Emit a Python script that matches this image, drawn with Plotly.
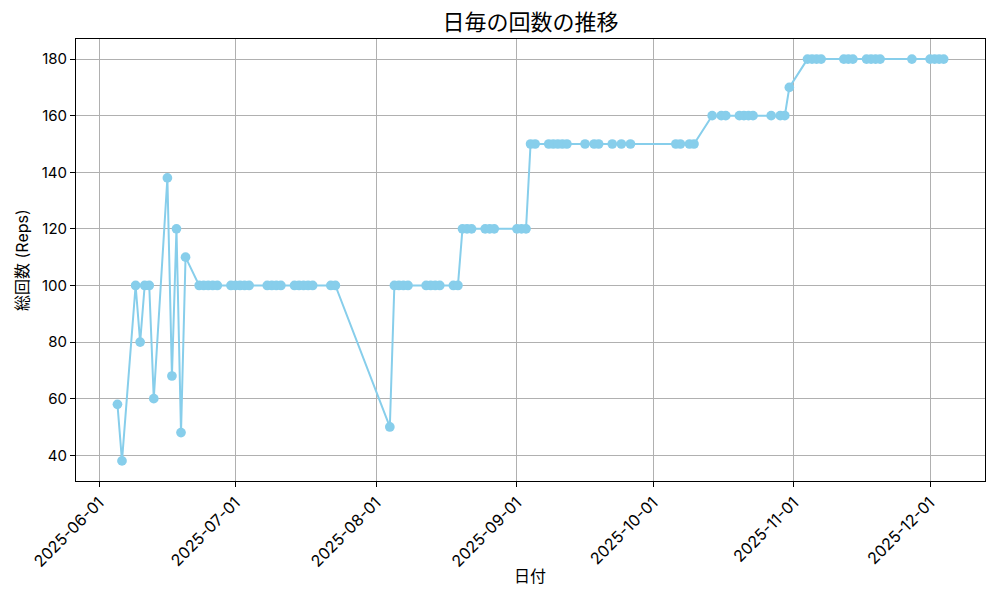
import pandas as pd
import plotly.graph_objects as go

# ---- data ----
dates = [
    "2025-06-05", "2025-06-06", "2025-06-09", "2025-06-10", "2025-06-11", "2025-06-12",
    "2025-06-13", "2025-06-16", "2025-06-17", "2025-06-18", "2025-06-19", "2025-06-20",
    "2025-06-23", "2025-06-24", "2025-06-25", "2025-06-26", "2025-06-27",
    "2025-06-30", "2025-07-01", "2025-07-02", "2025-07-03", "2025-07-04",
    "2025-07-08", "2025-07-09", "2025-07-10", "2025-07-11",
    "2025-07-14", "2025-07-15", "2025-07-16", "2025-07-17", "2025-07-18",
    "2025-07-22", "2025-07-23",
    "2025-08-04",
    "2025-08-05", "2025-08-06", "2025-08-07", "2025-08-08",
    "2025-08-12", "2025-08-13", "2025-08-14", "2025-08-15",
    "2025-08-18", "2025-08-19",
    "2025-08-20", "2025-08-21", "2025-08-22",
    "2025-08-25", "2025-08-26", "2025-08-27",
    "2025-09-01", "2025-09-02", "2025-09-03",
    "2025-09-04", "2025-09-05",
    "2025-09-08", "2025-09-09", "2025-09-10", "2025-09-11", "2025-09-12",
    "2025-09-16", "2025-09-18", "2025-09-19",
    "2025-09-22", "2025-09-24", "2025-09-26",
    "2025-10-06", "2025-10-07", "2025-10-09", "2025-10-10",
    "2025-10-14", "2025-10-16", "2025-10-17",
    "2025-10-20", "2025-10-21", "2025-10-22", "2025-10-23",
    "2025-10-27", "2025-10-29", "2025-10-30",
    "2025-10-31",
    "2025-11-04", "2025-11-05", "2025-11-06", "2025-11-07",
    "2025-11-12", "2025-11-13", "2025-11-14",
    "2025-11-17", "2025-11-18", "2025-11-19", "2025-11-20",
    "2025-11-27",
    "2025-12-01", "2025-12-02", "2025-12-03", "2025-12-04",
]
reps = [
    58, 38, 100, 80, 100, 100,
    60, 138, 68, 120, 48, 110,
    100, 100, 100, 100, 100,
    100, 100, 100, 100, 100,
    100, 100, 100, 100,
    100, 100, 100, 100, 100,
    100, 100,
    50,
    100, 100, 100, 100,
    100, 100, 100, 100,
    100, 100,
    120, 120, 120,
    120, 120, 120,
    120, 120, 120,
    150, 150,
    150, 150, 150, 150, 150,
    150, 150, 150,
    150, 150, 150,
    150, 150, 150, 150,
    160, 160, 160,
    160, 160, 160, 160,
    160, 160, 160,
    170,
    180, 180, 180, 180,
    180, 180, 180,
    180, 180, 180, 180,
    180,
    180, 180, 180, 180,
]
y_ticks = [40, 60, 80, 100, 120, 140, 160, 180]

title_text = "日毎の回数の推移"
x_title = "日付"
y_title = "総回数 (Reps)"

FONT = "Inter, Noto Sans CJK JP, sans-serif"
CJK = "Noto Sans CJK JP, sans-serif"

x = pd.to_datetime(dates)
origin = pd.Timestamp("2025-06-01")
x_lo = origin + pd.Timedelta(days=-5.13)
x_hi = origin + pd.Timedelta(days=195.1)

L, R, T, B = 76, 15, 39, 119
PW, PH = 1000 - L - R, 600 - T - B

fig = go.Figure()
fig.add_trace(go.Scatter(
    x=x, y=reps, mode="lines+markers",
    line=dict(color="#87CEEB", width=2),
    marker=dict(color="#87CEEB", size=9.7),
    showlegend=False,
))

fig.update_layout(
    width=1000, height=600,
    paper_bgcolor="white", plot_bgcolor="white",
    margin=dict(l=L, r=R, t=T, b=B, autoexpand=False),
    font=dict(family=FONT, size=14, color="black"),
    title=dict(text=title_text, xref="paper", x=0.5, xanchor="center",
               y=1 - 22 / 600, yanchor="middle",
               font=dict(size=22, family=CJK, color="black")),
    annotations=[
        dict(text=x_title, xref="paper", yref="paper",
             x=(530 - L) / PW, y=(600 - B - 575) / PH,
             xanchor="center", yanchor="middle", showarrow=False,
             font=dict(size=16, family=CJK, color="black")),
        dict(text=y_title, xref="paper", yref="paper",
             x=(22 - L) / PW, y=(600 - B - 260) / PH, textangle=-90,
             xanchor="center", yanchor="middle", showarrow=False,
             font=dict(size=16, family=FONT, color="black")),
    ],
)
fig.update_xaxes(
    type="date", range=[x_lo, x_hi], automargin=False,
    tick0="2025-06-01", dtick="M1", tickformat="%Y-%m-%d",
    tickangle=-45, ticks="outside", ticklen=5, tickwidth=1, tickcolor="black",
    showgrid=True, gridcolor="#b0b0b0", gridwidth=1,
    showline=True, linecolor="black", linewidth=1, mirror=True,
    zeroline=False,
    tickfont=dict(size=16, family=FONT),
)
fig.update_yaxes(
    range=[30.9, 187.1], tickvals=y_ticks, automargin=False,
    ticks="outside", ticklen=5, tickwidth=1, tickcolor="black",
    showgrid=True, gridcolor="#b0b0b0", gridwidth=1,
    showline=True, linecolor="black", linewidth=1, mirror=True,
    zeroline=False,
    tickfont=dict(size=15, family=FONT),
)

fig.write_html(
    "out.html",
    config={"responsive": False, "displayModeBar": False},
    post_script=(
        "document.body.style.margin='0';"
        "document.body.style.overflow='hidden';"
        "Plotly.relayout('{plot_id}', {width:1000, height:600});"
    ),
)
